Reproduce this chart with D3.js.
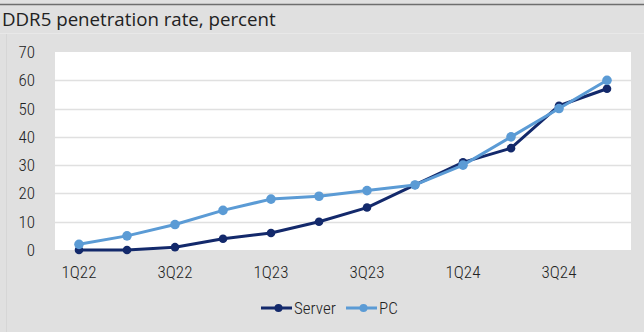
<!DOCTYPE html>
<html><head><meta charset="utf-8">
<script src="https://cdn.jsdelivr.net/npm/d3@7"></script>
<style>
html,body{margin:0;padding:0;background:#e0e0e0;}
svg{display:block;}
</style></head>
<body>
<svg id="chart" width="644" height="332"></svg>
<script>
const title = "DDR5 penetration rate, percent";
const categories = ["1Q22","2Q22","3Q22","4Q22","1Q23","2Q23","3Q23","4Q23","1Q24","2Q24","3Q24","4Q24"];
const serverValues = [0, 0, 1, 4, 6, 10, 15, 23, 31, 36, 51, 57];
const pcValues = [2, 5, 9, 14, 18, 19, 21, 23, 30, 40, 50, 60];
const yTicks = [0, 10, 20, 30, 40, 50, 60, 70];
const seriesNames = ["Server", "PC"];

const colors = {Server: "#13296b", PC: "#5b9bd5"};
const svg = d3.select("#chart");
const W = 644, H = 332;
const condensed = "'Roboto Condensed',sans-serif";
const labelWeight = 300;

svg.append("rect").attr("x",0).attr("y",0).attr("width",W).attr("height",H).attr("fill","#e0e0e0");
svg.append("line").attr("x1",0).attr("x2",W).attr("y1",4.5).attr("y2",4.5).attr("stroke","#6e6e6e").attr("stroke-width",1.5);
svg.append("line").attr("x1",0).attr("x2",W).attr("y1",33.5).attr("y2",33.5).attr("stroke","#e8e8e8").attr("stroke-width",1);
svg.append("line").attr("x1",6.5).attr("x2",6.5).attr("y1",34).attr("y2",H).attr("stroke","#d6d6d6").attr("stroke-width",1);

svg.append("text").attr("x",2).attr("y",26).attr("font-family","'Open Sans',sans-serif")
  .attr("font-size",18.7).attr("fill","#222").text(title);

const m = {left:55, right:631, top:52, bottom:250};
const x = d3.scaleBand().domain(categories).range([m.left, m.right]);
const y = d3.scaleLinear().domain([0,70]).range([m.bottom, m.top]);

svg.append("rect").attr("x",m.left).attr("y",m.top).attr("width",m.right-m.left).attr("height",m.bottom-m.top).attr("fill","#ffffff");

// gridlines
svg.append("g").selectAll("line").data(yTicks.filter(d=>d>0 && d<70)).join("line")
  .attr("x1",m.left).attr("x2",m.right)
  .attr("y1",d=>Math.round(y(d))+0.5).attr("y2",d=>Math.round(y(d))+0.5)
  .attr("stroke","#e0e0e0").attr("stroke-width",1.5);

// y axis
const yAxis = svg.append("g").attr("transform",`translate(${m.left-20},0)`)
  .call(d3.axisLeft(y).tickValues(yTicks).tickSize(0).tickPadding(0));
yAxis.select(".domain").remove();
yAxis.selectAll("text").attr("font-family",condensed).attr("font-weight",labelWeight).attr("font-size",17).attr("fill","#222");

// x axis
const xAxis = svg.append("g").attr("transform",`translate(0,${m.bottom})`)
  .call(d3.axisBottom(x).tickValues(categories.filter((d,i)=>i%2===0)).tickSize(0).tickPadding(16));
xAxis.select(".domain").remove();
xAxis.selectAll("text").attr("font-family",condensed).attr("font-weight",labelWeight).attr("font-size",17).attr("fill","#222");

const line = d3.line().x((d,i)=>x(categories[i])+x.bandwidth()/2).y(d=>y(d));
const series = [{name:"Server", values:serverValues, r:4.3},{name:"PC", values:pcValues, r:4.8}];
series.forEach(s=>{
  const g = svg.append("g");
  g.append("path").datum(s.values).attr("d",line).attr("fill","none")
    .attr("stroke",colors[s.name]).attr("stroke-width",3).attr("stroke-linejoin","round");
  g.selectAll("circle").data(s.values).join("circle")
    .attr("cx",(d,i)=>x(categories[i])+x.bandwidth()/2).attr("cy",d=>y(d))
    .attr("r",s.r).attr("fill",colors[s.name]);
});

// legend
const legendItems = [{name:seriesNames[0], x:261, w:31},{name:seriesNames[1], x:346, w:31}];
const ly = 308;
legendItems.forEach((it,i)=>{
  const g = svg.append("g");
  g.append("line").attr("x1",it.x).attr("x2",it.x+it.w).attr("y1",ly).attr("y2",ly)
    .attr("stroke",colors[it.name]).attr("stroke-width",3);
  g.append("circle").attr("cx",it.x+it.w/2+2).attr("cy",ly).attr("r",4).attr("fill",colors[it.name]);
  g.append("text").attr("x",it.x+it.w+2).attr("y",ly).attr("dy","0.35em")
    .attr("font-family",condensed).attr("font-weight",labelWeight).attr("font-size",17).attr("fill","#222").text(it.name);
});
</script>
</body></html>
